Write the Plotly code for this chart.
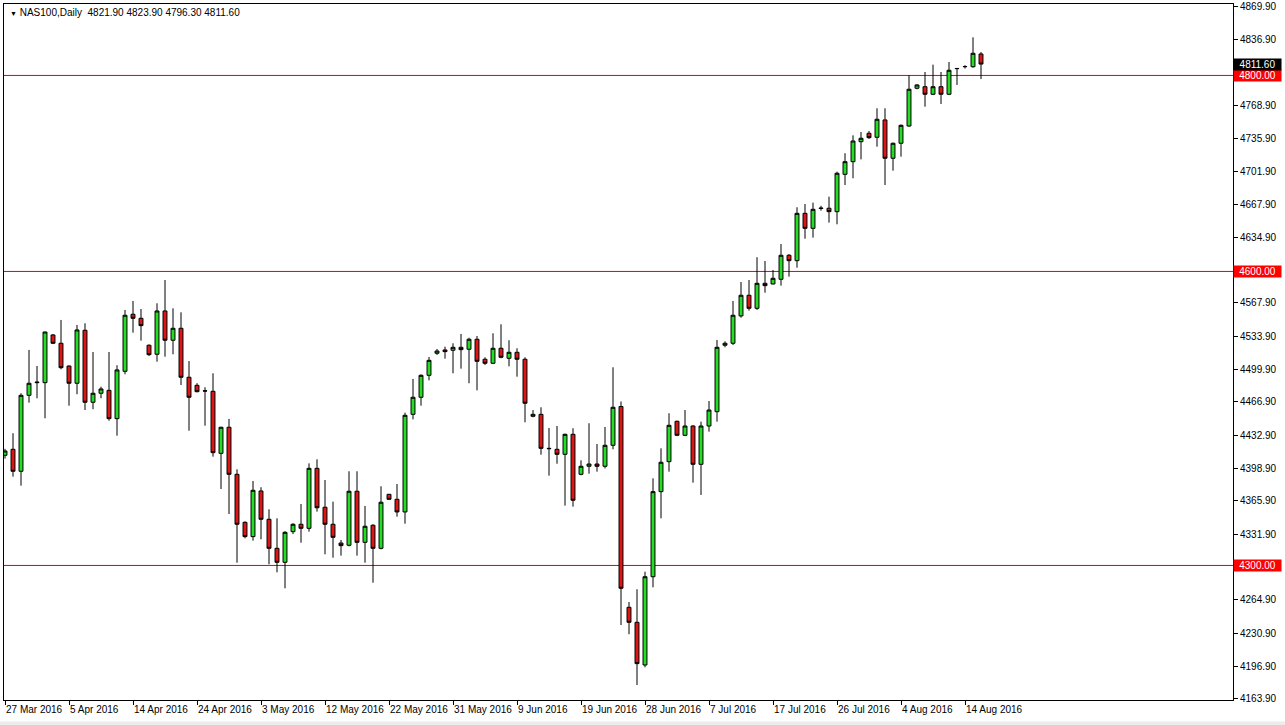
import pandas as pd
import plotly.graph_objects as go

# Daily bars (Sunday-Friday sessions), 27 Mar 2016 - 16 Aug 2016
dates = [d.strftime("%Y-%m-%d") for d in pd.bdate_range("2016-03-27", "2016-08-16", freq="C",
                                                          weekmask="Sun Mon Tue Wed Thu Fri")]

open_ = [4412.4, 4418.5, 4396.1, 4473.6, 4486.5, 4486.5, 4535.2, 4526.7, 4503.5, 4485.9,
         4540.0, 4466.5, 4475.7, 4478.7, 4449.8, 4498.1, 4556.3, 4552.2, 4524.7, 4515.5,
         4559.7, 4529.8, 4542.0, 4492.0, 4483.8, 4478.2, 4477.7, 4414.4, 4441.0, 4393.0,
         4344.0, 4329.4, 4376.0, 4347.1, 4317.5, 4303.2, 4334.5, 4342.0, 4337.9, 4399.1,
         4359.4, 4342.0, 4322.9, 4320.6, 4375.7, 4323.6, 4341.0, 4317.5, 4372.6, 4367.5,
         4354.6, 4454.2, 4471.6, 4494.0, 4516.5, 4519.9, 4519.6, 4522.6, 4520.6, 4530.8,
         4510.4, 4506.3, 4521.6, 4511.4, 4517.5, 4510.4, 4452.2, 4454.2, 4419.5, 4418.5,
         4413.4, 4433.8, 4393.0, 4401.2, 4403.5, 4401.2, 4422.6, 4462.2, 4257.3, 4242.0,
         4198.4, 4288.5, 4375.3, 4405.9, 4447.1, 4432.8, 4442.3, 4403.2, 4442.3, 4456.9,
         4524.7, 4526.7, 4554.6, 4575.7, 4562.4, 4587.9, 4587.2, 4592.0, 4616.5, 4611.0,
         4659.3, 4644.0, 4664.2, 4664.5, 4661.0, 4699.1, 4712.0, 4732.4, 4741.0, 4736.9,
         4754.6, 4715.5, 4730.8, 4748.4, 4786.9, 4788.5, 4780.8, 4788.5, 4780.8, 4806.9,
         4808.9, 4808.9, 4821.9]
high = [4419.0, 4434.9, 4475.7, 4519.9, 4503.5, 4538.5, 4536.2, 4550.5, 4504.0, 4545.4,
        4547.1, 4517.8, 4482.4, 4517.8, 4504.3, 4560.7, 4569.9, 4561.7, 4525.5, 4567.5,
        4591.3, 4562.4, 4558.3, 4508.6, 4486.0, 4481.8, 4496.1, 4441.5, 4449.5, 4398.1,
        4345.0, 4386.2, 4379.8, 4357.3, 4348.1, 4335.0, 4343.0, 4362.7, 4404.2, 4408.3,
        4387.2, 4365.1, 4326.0, 4396.1, 4396.1, 4360.7, 4342.0, 4380.8, 4373.0, 4383.1,
        4455.9, 4490.3, 4495.0, 4512.7, 4520.9, 4523.2, 4526.7, 4536.2, 4532.4, 4534.1,
        4512.4, 4536.9, 4546.1, 4529.8, 4521.6, 4512.4, 4458.6, 4461.4, 4440.3, 4442.3,
        4434.5, 4440.0, 4407.3, 4445.1, 4423.9, 4441.3, 4502.2, 4467.3, 4262.7, 4275.7,
        4293.6, 4388.9, 4419.5, 4455.3, 4447.8, 4458.6, 4443.0, 4446.7, 4467.8, 4530.1,
        4528.7, 4569.9, 4589.2, 4591.3, 4614.5, 4610.7, 4601.5, 4628.0, 4617.8, 4665.5,
        4668.8, 4670.2, 4667.0, 4676.3, 4701.8, 4720.6, 4738.9, 4742.3, 4743.3, 4766.5,
        4766.5, 4731.5, 4750.0, 4800.2, 4791.0, 4803.5, 4811.0, 4803.5, 4813.7, 4807.5,
        4810.5, 4838.9, 4823.9]
low = [4409.0, 4390.6, 4381.4, 4466.1, 4470.6, 4450.2, 4526.0, 4500.2, 4463.0, 4474.7,
       4458.6, 4459.4, 4470.6, 4447.7, 4432.4, 4495.1, 4537.5, 4529.4, 4513.7, 4507.9,
       4513.0, 4515.5, 4484.1, 4437.5, 4476.7, 4442.6, 4411.0, 4378.0, 4352.5, 4302.8,
       4327.7, 4325.3, 4326.7, 4301.2, 4293.0, 4276.7, 4332.0, 4323.2, 4334.5, 4354.9,
       4311.4, 4307.9, 4310.0, 4319.5, 4310.0, 4302.8, 4282.4, 4316.5, 4366.8, 4349.8,
       4342.6, 4449.1, 4463.0, 4488.9, 4514.8, 4511.0, 4496.1, 4500.8, 4485.9, 4478.7,
       4504.6, 4505.5, 4511.4, 4503.2, 4492.6, 4446.1, 4451.2, 4413.0, 4391.6, 4403.8,
       4361.0, 4360.0, 4392.0, 4393.6, 4395.7, 4399.0, 4418.5, 4239.2, 4229.8, 4178.0,
       4196.1, 4277.7, 4348.1, 4395.7, 4432.0, 4432.0, 4384.5, 4371.9, 4436.5, 4446.7,
       4522.6, 4525.0, 4552.8, 4560.0, 4560.7, 4578.3, 4586.9, 4585.5, 4594.7, 4603.8,
       4633.4, 4634.5, 4662.0, 4649.8, 4648.1, 4688.2, 4695.1, 4714.4, 4735.2, 4727.3,
       4688.2, 4702.8, 4717.1, 4747.7, 4785.9, 4768.1, 4780.0, 4770.9, 4780.0, 4790.3,
       4807.0, 4807.9, 4796.3]
close = [4416.8, 4396.1, 4473.6, 4485.9, 4487.0, 4538.2, 4526.7, 4501.8, 4485.9, 4540.3,
         4466.5, 4475.7, 4480.1, 4449.8, 4499.5, 4555.3, 4552.2, 4544.7, 4515.1, 4559.7,
         4529.8, 4542.0, 4492.0, 4471.6, 4477.3, 4478.0, 4415.1, 4441.0, 4393.0, 4342.0,
         4329.4, 4376.7, 4347.1, 4317.5, 4303.2, 4333.8, 4342.0, 4337.9, 4399.1, 4358.9,
         4342.0, 4328.7, 4320.2, 4375.7, 4323.6, 4340.0, 4317.5, 4364.5, 4367.5, 4354.6,
         4453.2, 4471.6, 4494.0, 4509.3, 4518.8, 4518.2, 4522.6, 4520.2, 4530.8, 4508.3,
         4506.3, 4521.6, 4512.4, 4517.5, 4510.4, 4465.5, 4454.2, 4419.5, 4419.2, 4413.4,
         4433.8, 4366.5, 4401.2, 4403.5, 4401.2, 4422.6, 4461.4, 4276.7, 4242.0, 4199.8,
         4288.5, 4375.3, 4405.3, 4443.0, 4432.8, 4442.3, 4403.2, 4442.3, 4458.6, 4522.6,
         4526.7, 4555.3, 4575.7, 4562.4, 4587.9, 4585.5, 4593.0, 4616.5, 4611.0, 4659.3,
         4644.0, 4663.4, 4664.6, 4661.0, 4700.2, 4712.0, 4733.1, 4735.9, 4736.5, 4755.3,
         4715.5, 4730.8, 4749.1, 4785.9, 4790.3, 4780.8, 4788.5, 4780.8, 4805.3, 4807.1,
         4809.1, 4822.6, 4811.6]

# Axis labels
xtick_dates = ["2016-03-27", "2016-04-05", "2016-04-14", "2016-04-24", "2016-05-03", "2016-05-12",
               "2016-05-22", "2016-05-31", "2016-06-09", "2016-06-19", "2016-06-28", "2016-07-07",
               "2016-07-17", "2016-07-26", "2016-08-04", "2016-08-14"]
xtick_text = ["27 Mar 2016", "5 Apr 2016", "14 Apr 2016", "24 Apr 2016", "3 May 2016", "12 May 2016",
              "22 May 2016", "31 May 2016", "9 Jun 2016", "19 Jun 2016", "28 Jun 2016", "7 Jul 2016",
              "17 Jul 2016", "26 Jul 2016", "4 Aug 2016", "14 Aug 2016"]
ytick_vals = [4869.90, 4836.90, 4768.90, 4735.90, 4701.90, 4667.90, 4634.90, 4567.90, 4533.90,
              4499.90, 4466.90, 4432.90, 4398.90, 4365.90, 4331.90, 4264.90, 4230.90, 4196.90, 4163.90]
levels = [4800.00, 4600.00, 4300.00]
symbol = "NAS100,Daily"

FONT = "Liberation Sans"
GREEN = "#22dd22"
RED = "#dd1515"
LEVEL = "#e80000"

fig = go.Figure()
fig.add_trace(go.Candlestick(
    x=dates, open=open_, high=high, low=low, close=close,
    increasing=dict(fillcolor=GREEN, line=dict(color="black", width=1)),
    decreasing=dict(fillcolor=RED, line=dict(color="black", width=1)),
    whiskerwidth=0, showlegend=False,
))

for lv in levels:
    fig.add_shape(type="line", xref="paper", x0=0, x1=1, yref="y", y0=lv, y1=lv,
                  line=dict(color=LEVEL, width=1), layer="below")
    fig.add_annotation(xref="paper", x=1.0, xanchor="left", yref="y", y=lv, yanchor="middle",
                       text=f"{lv:.2f}", showarrow=False, bgcolor="#ff0000",
                       font=dict(family=FONT, size=10, color="white"),
                       width=47, height=11, borderpad=0, align="center")

last_close = close[-1]
fig.add_annotation(xref="paper", x=1.0, xanchor="left", yref="y", y=last_close, yanchor="middle",
                   text=f"{last_close:.2f}", showarrow=False, bgcolor="black",
                   font=dict(family=FONT, size=10, color="white"),
                   width=47, height=11, borderpad=0, align="center")

fig.add_annotation(xref="paper", yref="paper", x=0.003, y=0.998, xanchor="left", yanchor="top",
                   text=f"<span style='font-size:7px'>▼</span> {symbol}  {open_[-1]:.2f} {high[-1]:.2f} {low[-1]:.2f} {close[-1]:.2f}",
                   showarrow=False, font=dict(family=FONT, size=10, color="black"))

# light strip at the bottom of the window
fig.add_shape(type="rect", xref="paper", yref="paper", x0=-0.01, x1=1.05, y0=-0.0365, y1=-0.031,
              fillcolor="#ececec", line=dict(width=0), layer="below")

fig.update_layout(
    width=1285, height=725,
    margin=dict(l=4, r=52, t=4, b=25, autoexpand=False),
    paper_bgcolor="white", plot_bgcolor="white",
    font=dict(family=FONT, size=10, color="black"),
    showlegend=False,
    xaxis=dict(type="category", range=[-0.125, 153.5], rangeslider=dict(visible=False),
               tickmode="array", tickvals=xtick_dates, ticktext=xtick_text, tickangle=0,
               automargin=False,
               ticks="outside", ticklen=4, tickcolor="black", ticklabelposition="outside right",
               showgrid=False, zeroline=False, showline=True, linecolor="black", linewidth=1,
               mirror=True, tickfont=dict(family=FONT, size=10, color="black")),
    yaxis=dict(side="right", range=[4162.7, 4872.9], tickmode="array", tickvals=ytick_vals,
               automargin=False,
               ticktext=[f"{v:.2f}" for v in ytick_vals], ticks="outside", ticklen=4,
               tickcolor="black", showgrid=False, zeroline=False, showline=True, linecolor="black",
               linewidth=1, mirror=True, tickfont=dict(family=FONT, size=10, color="black")),
    hovermode=False,
)

fig.write_html("out.html", config={"displayModeBar": False},
               post_script="document.body.style.margin='0px';document.body.style.overflow='hidden';")
